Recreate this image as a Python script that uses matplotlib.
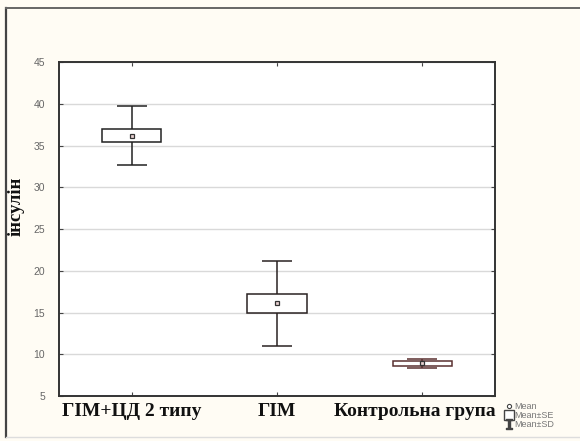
import matplotlib.pyplot as plt
from matplotlib.lines import Line2D

groups = ["ГІМ+ЦД 2 типу", "ГІМ", "Контрольна група"]
means = [36.2, 16.1, 8.9]
se = [0.75, 1.15, 0.25]
sd = [3.5, 5.05, 0.5]
yticks = [5, 10, 15, 20, 25, 30, 35, 40, 45]

serif = ["Liberation Serif", "DejaVu Serif"]
narrow = ["Liberation Sans Narrow", "Liberation Sans", "DejaVu Sans"]

fig = plt.figure(figsize=(5.8, 4.41), dpi=100, facecolor="#fffcf4")
ax = fig.add_axes([0.1017, 0.102, 0.7517, 0.757])
ax.set_facecolor("white")

x = [1, 2, 3]
line_colors = ["#222222", "#2a2222", "#5a3030"]

for xi, m, s_e, s_d, c in zip(x, means, se, sd, line_colors):
    ax.errorbar(xi, m, yerr=s_d, color=c, lw=1.1, capsize=10.5,
                capthick=1.1, zorder=3)
    ax.bar(xi, 2 * s_e, bottom=m - s_e, width=0.41, color="white",
           edgecolor=c, linewidth=1.1, zorder=4)
    ax.plot(xi, m, marker="s", ms=3.5, mfc="#e8d0d0", mec="#333333",
            mew=0.9, zorder=5)

ax.set_xlim(0.5, 3.5)
ax.set_ylim(5, 45)
ax.set_yticks(yticks)
ax.set_yticklabels([str(v) for v in yticks], family=narrow, fontsize=7.5,
                   color="#666666")
ax.yaxis.grid(True, color="#d9d9d9", lw=1)
ax.set_axisbelow(True)
ax.tick_params(axis="y", direction="in", length=3, pad=10, right=True,
               color="#444444")
ax.set_xticks(x)
ax.set_xticklabels([])
ax.tick_params(axis="x", direction="in", length=3, top=True, color="#444444")
for sp in ax.spines.values():
    sp.set_color("#333333")
    sp.set_linewidth(1.4)

# group labels under the axis
label_x = [1.0, 2.0, 2.95]
for lx, g in zip(label_x, groups):
    ax.text(lx, -0.02, g, transform=ax.get_xaxis_transform(), ha="center",
            va="top", family=serif, fontsize=14, fontweight="bold",
            color="#111111")

fig.text(0.027, 0.533, "інсулін", rotation=90, ha="center", va="center",
         family=serif, fontsize=13.5, fontweight="bold", color="#111111")

# legend
handles = [
    Line2D([], [], ls="none", marker="o", ms=3, mfc="white",
           mec="#444444", mew=0.8),
    Line2D([], [], ls="none", marker="s", ms=6.5, mfc="white",
           mec="#444444", mew=1.0),
    Line2D([], [], ls="none", marker="$\\mathtt{I}$", ms=7.5,
           color="#444444"),
]
fig.legend(handles, ["Mean", "Mean±SE", "Mean±SD"], loc="lower left",
           bbox_to_anchor=(0.862, 0.012), frameon=False,
           labelcolor="#777777", handlelength=0.6, handletextpad=0.3,
           labelspacing=0.0, borderpad=0.2,
           prop={"family": narrow, "size": 6.5})

# outer frame
fig.add_artist(Line2D([0.011, 0.011], [0.009, 0.982], color="#444444",
                      lw=1.6, transform=fig.transFigure))
fig.add_artist(Line2D([0.011, 1.0], [0.982, 0.982], color="#666666",
                      lw=1.4, transform=fig.transFigure))
fig.add_artist(Line2D([0.011, 1.0], [0.009, 0.009], color="#dddddd",
                      lw=1.0, transform=fig.transFigure))

fig.savefig("out.png", dpi=100, facecolor=fig.get_facecolor())
